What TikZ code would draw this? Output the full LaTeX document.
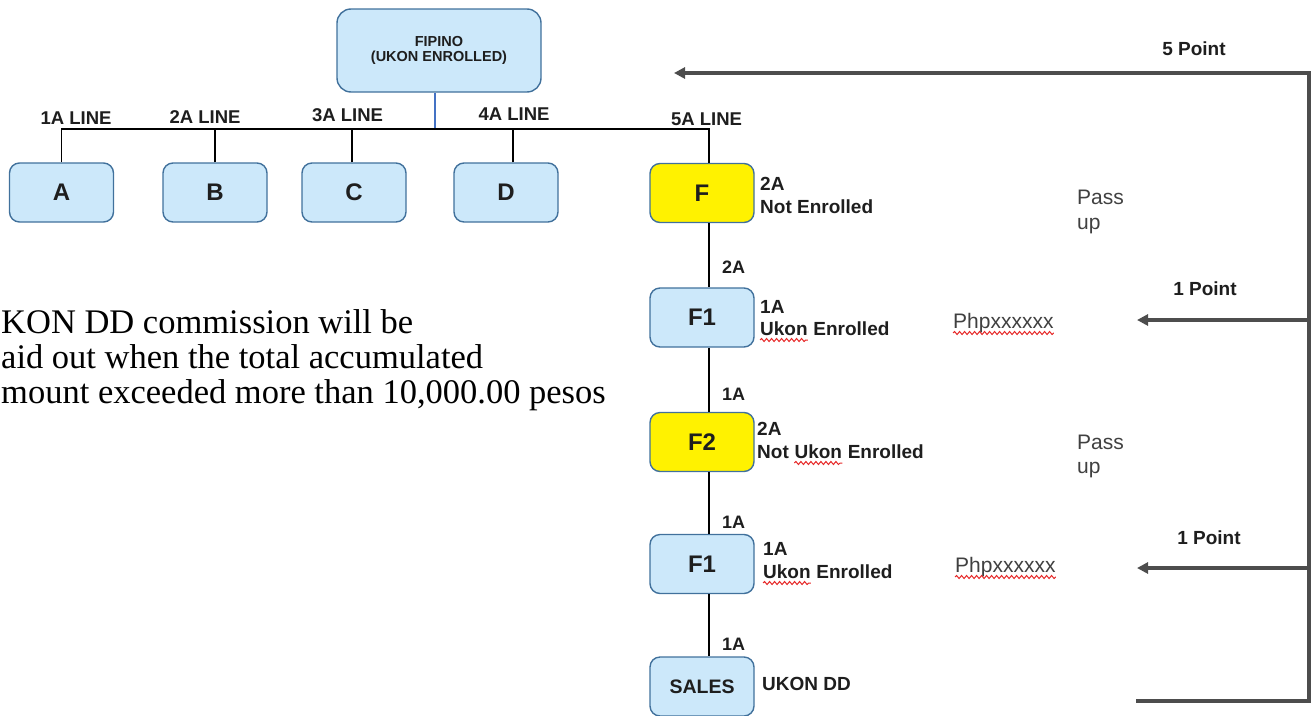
\documentclass[tikz,border=0pt]{standalone}
\usepackage{fontspec}
\setmainfont{Liberation Sans}
\newfontfamily\parafont{Liberation Serif}
\usetikzlibrary{arrows.meta,decorations.pathmorphing}
\definecolor{boxblue}{RGB}{204,232,250}
\definecolor{boxedge}{RGB}{65,113,156}
\definecolor{linkblue}{RGB}{68,114,196}
\definecolor{arrowgray}{RGB}{77,77,77}
\definecolor{txt}{RGB}{30,30,30}
\definecolor{passgray}{RGB}{64,64,64}
\definecolor{wavered}{RGB}{230,40,40}
\begin{document}
\begin{tikzpicture}[x=1pt,y=-1pt,
  bluebox/.style={draw=boxedge, line width=1.4pt, rounded corners=10pt, fill=boxblue,
    minimum width=104pt, minimum height=59pt, inner sep=0pt,
    font=\bfseries\fontsize{24}{28}\selectfont, text=txt},
  yellowbox/.style={bluebox, fill=yellow},
  lbl/.style={anchor=base west, inner sep=0pt, font=\bfseries\fontsize{19}{22}\selectfont, text=txt},
  linelbl/.style={anchor=base, inner sep=0pt, font=\bfseries\fontsize{18.5}{22}\selectfont, text=txt},
  pointlbl/.style={anchor=base, inner sep=0pt, font=\bfseries\fontsize{19}{22}\selectfont, text=txt},
  passtxt/.style={anchor=base west, inner sep=0pt, font=\fontsize{21}{25}\selectfont, text=passgray},
  paratxt/.style={anchor=base west, inner sep=0pt, font=\parafont\fontsize{34.5}{35}\selectfont, text=black},
  conn/.style={draw=black, line width=1.3pt},
  arrowline/.style={draw=arrowgray, line width=3.5pt},
  arrowtip/.style={-{Triangle[length=11pt,width=11pt]}},
  wavy/.style={draw=wavered, line width=1pt, decorate,
    decoration={snake, segment length=5pt, amplitude=1.5pt}},
]
\useasboundingbox (0,0) rectangle (1313,715);

% top box
\node[bluebox, minimum width=204pt, minimum height=83pt, rounded corners=14pt,
  align=center, font=\bfseries\fontsize{14.5}{15.5}\selectfont] (fip) at (439,50.5)
  {FIPINO\\(UKON ENROLLED)};

% first level boxes
\node[bluebox] (A) at (61.5,192.5) {A};
\node[bluebox] (B) at (215,192.5) {B};
\node[bluebox] (C) at (354,192.5) {C};
\node[bluebox] (D) at (506,192.5) {D};
\node[yellowbox] (F) at (702,193) {F};

% chain
\node[bluebox] (F1) at (702,317.5) {F1};
\node[yellowbox] (F2) at (702,442) {F2};
\node[bluebox] (F1b) at (702,564) {F1};
\node[bluebox, font=\bfseries\fontsize{19.5}{22}\selectfont] (S) at (702,686.5) {SALES};

% bus line
\coordinate (bus) at (0,129);
\coordinate (fipo) at ([xshift=-4pt]fip.south);
\coordinate (Cin) at ([xshift=-2pt]C.north);
\coordinate (Din) at ([xshift=7pt]D.north);
\coordinate (Fin) at ([xshift=7pt]F.north);
\draw[draw=linkblue, line width=1.4pt] (fipo) -- ([yshift=1.5pt]fipo |- bus);
\draw[conn] (A.north) -- (A.north |- bus) -- (Fin |- bus) -- (Fin);
\draw[conn] (B.north) -- (B.north |- bus);
\draw[conn] (Cin) -- (Cin |- bus);
\draw[conn] (Din) -- (Din |- bus);

% vertical chain connectors
\coordinate (Fo) at ([xshift=7pt]F.south);
\coordinate (F1o) at ([xshift=7pt]F1.south);
\coordinate (F2o) at ([xshift=7pt]F2.south);
\coordinate (F1bo) at ([xshift=7pt]F1b.south);
\draw[conn] (Fo) -- (Fo |- F1.north);
\draw[conn] (F1o) -- (F1o |- F2.north);
\draw[conn] (F2o) -- (F2o |- F1b.north);
\draw[conn] (F1bo) -- (F1bo |- S.north);

% line labels
\node[linelbl] (l1) at (76,124) {1A LINE};
\node[linelbl] (l2) at (205,123) {2A LINE};
\node[linelbl] (l3) at (347.5,121) {3A LINE};
\node[linelbl] (l4) at (514,120) {4A LINE};
\node[linelbl] (l5) at (706.5,125) {5A LINE};

% edge labels
\node[lbl, font=\bfseries\fontsize{18}{22}\selectfont] (e1) at (722,273) {2A};
\node[lbl, font=\bfseries\fontsize{18}{22}\selectfont] (e2) at (722,400) {1A};
\node[lbl, font=\bfseries\fontsize{18}{22}\selectfont] (e3) at (722,528) {1A};
\node[lbl, font=\bfseries\fontsize{18}{22}\selectfont] (e4) at (722,650) {1A};

% side labels
\node[lbl] (fa) at (760,190) {2A};
\node[lbl] (fb) at (760,213) {Not Enrolled};

\node[lbl] (f1a) at (760,313) {1A};
\node[lbl] (f1u) at (760,335) {Ukon};
\node[lbl] (f1e) at ([xshift=5.3pt]f1u.base east) {Enrolled};
\draw[wavy] ([yshift=-5pt]f1u.base west) -- ([yshift=-5pt]f1u.base east);

\node[lbl] (f2a) at (757,435) {2A};
\node[lbl] (f2n) at (757,458) {Not};
\node[lbl] (f2u) at ([xshift=5.3pt]f2n.base east) {Ukon};
\node[lbl] (f2e) at ([xshift=5.3pt]f2u.base east) {Enrolled};
\draw[wavy] ([yshift=-5pt]f2u.base west) -- ([yshift=-5pt]f2u.base east);

\node[lbl] (g1a) at (763,555) {1A};
\node[lbl] (g1u) at (763,578) {Ukon};
\node[lbl] (g1e) at ([xshift=5.3pt]g1u.base east) {Enrolled};
\draw[wavy] ([yshift=-5pt]g1u.base west) -- ([yshift=-5pt]g1u.base east);

\node[lbl] (sl) at (762,690) {UKON DD};

% pass up / php
\node[passtxt] (p1) at (1077,204) {Pass};
\node[passtxt] (u1) at (1077,229) {up};
\node[passtxt] (p2) at (1077,449) {Pass};
\node[passtxt] (u2) at (1077,473) {up};
\node[passtxt] (php1) at (953,328) {Phpxxxxxx};
\draw[wavy] ([yshift=-5pt]php1.base west) -- ([yshift=-5pt]php1.base east);
\node[passtxt] (php2) at (955,572) {Phpxxxxxx};
\draw[wavy] ([yshift=-5pt]php2.base west) -- ([yshift=-5pt]php2.base east);

% points
\node[pointlbl] (pt5) at (1194,55) {5 Point};
\node[pointlbl] (pt1) at (1205,295) {1 Point};
\node[pointlbl] (pt1b) at (1209,544) {1 Point};

% right bracket and arrows
\coordinate (rtop) at (1309,73);
\coordinate (rbot) at (1309,701);
\coordinate (bend) at (1136,701);
\coordinate (tip5) at (674,73);
\coordinate (r1) at (1309,320);
\coordinate (tip1) at (1137,320);
\coordinate (r2) at (1309,568);
\coordinate (tip2) at (1137,568);
\draw[arrowline, arrowtip] (bend) -- (rbot) -- (rtop) -- (tip5);
\draw[arrowline, arrowtip] (r1) -- (tip1);
\draw[arrowline, arrowtip] (r2) -- (tip2);

% paragraph
\node[paratxt] (t1) at (1,333) {KON DD commission will be};
\node[paratxt] (t2) at (1,368) {aid out when the total accumulated};
\node[paratxt] (t3) at (1,403) {mount exceeded more than 10,000.00 pesos};
\end{tikzpicture}
\end{document}
